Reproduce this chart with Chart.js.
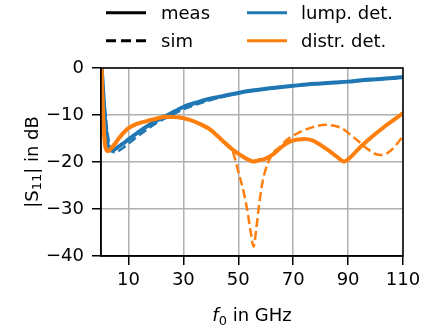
<!DOCTYPE html>
<html>
<head>
<meta charset="utf-8">
<script src="https://cdn.jsdelivr.net/npm/chart.js@4.4.1/dist/chart.umd.min.js"></script>
<style>
  html, body { margin: 0; padding: 0; background: #fff; }
</style>
</head>
<body>
<canvas id="c" width="421" height="327"></canvas>
<script>
// Return loss |S11| of the two detector designs, measured vs. simulated.
const xTickValues = [10, 30, 50, 70, 90, 110];
const yTickValues = [0, -10, -20, -30, -40];

// lumped-element detector, measurement
const lumpMeasFreq = [0.2, 0.6, 1.0, 1.5, 2.0, 2.5, 3.2, 4, 5, 6, 8, 10, 13, 16, 20, 25, 30, 35, 40, 45, 50, 55, 60, 65, 70, 75, 80, 85, 90, 95, 100, 105, 110];
const lumpMeasDb   = [0, -3, -7, -11, -14, -16.5, -17.4, -17.6, -17.3, -16.9, -16.1, -15.2, -13.9, -12.7, -11.3, -9.8, -8.3, -7.3, -6.5, -5.9, -5.3, -4.8, -4.4, -4.1, -3.8, -3.5, -3.3, -3.1, -2.9, -2.6, -2.4, -2.2, -1.9];

// lumped-element detector, simulation
const lumpSimFreq = [0.3, 1, 2, 3, 4, 5, 6, 8, 10, 13, 16, 20, 25, 30, 40, 50, 60, 70, 80, 90, 100, 110];
const lumpSimDb   = [0, -6, -12, -16, -17.6, -18.0, -17.8, -17.0, -16.1, -14.7, -13.4, -11.8, -10.2, -8.8, -6.8, -5.4, -4.5, -3.8, -3.3, -2.9, -2.5, -2.1];

// distributed detector, measurement
const distrMeasFreq = [0.2, 0.5, 1, 1.5, 2.2, 3, 4, 5.2, 7, 10, 13, 16, 20, 24, 28, 32, 36, 40, 44, 48, 51, 54, 55.6, 57, 60, 63, 66, 69, 72, 74, 77, 80, 83, 86, 88.6, 91, 94, 97, 100, 103, 106, 110];
const distrMeasDb   = [0, -6, -13, -16.5, -17.6, -17.5, -16.9, -16.0, -14.6, -12.8, -11.9, -11.4, -10.8, -10.35, -10.5, -11.0, -11.9, -13.2, -15.3, -17.4, -18.6, -19.6, -19.9, -19.7, -19.3, -18.2, -16.7, -15.6, -15.2, -15.1, -15.4, -16.4, -17.6, -18.9, -19.9, -18.9, -17.1, -15.5, -14.0, -12.6, -11.3, -9.6];

// distributed detector, simulation
const distrSimFreq = [0.3, 0.8, 1.5, 2.3, 3, 4, 5.5, 7, 10, 13, 16, 20, 24, 28, 32, 36, 40, 44, 46, 48, 50, 52, 53.5, 54.5, 55.6, 56.5, 57.5, 58.6, 60, 61.5, 63, 65, 67, 70, 73, 76, 79, 82, 85, 88, 91, 94, 97, 100, 102, 104, 106, 108, 110];
const distrSimDb   = [0, -8, -15, -17.8, -17.7, -17.1, -16.0, -14.7, -12.9, -11.9, -11.4, -10.8, -10.4, -10.5, -11.0, -12.0, -13.3, -15.3, -16.5, -17.8, -22.0, -26.5, -31.0, -34.8, -38.0, -34.5, -29.5, -25.0, -21.5, -19.3, -17.8, -16.9, -15.6, -14.4, -13.5, -12.8, -12.3, -12.1, -12.3, -12.9, -14.3, -15.7, -17.2, -18.3, -18.5, -18.2, -17.3, -16.0, -14.5];

const BLUE = '#1f77b4';
const ORANGE = '#ff7f0e';
const FONT = "'DejaVu Sans', sans-serif";
const FS = 18;

const toPoints = (freq, db) => freq.map((f, i) => ({ x: f, y: db[i] }));

const measStyle = { borderWidth: 4, pointRadius: 0, cubicInterpolationMode: 'monotone', fill: false };
const simStyle  = { borderWidth: 2.5, borderDash: [9, 4], pointRadius: 0, cubicInterpolationMode: 'monotone', fill: false };

// Legend: line style (meas/sim) in the first column, detector colour in the second.
const legendItems = [
  { text: 'meas',        color: '#000', dash: [],      x0: 106, x1: 146, tx: 161, y: 12.7 },
  { text: 'sim',         color: '#000', dash: [10, 5], x0: 106, x1: 146, tx: 161, y: 40.7 },
  { text: 'lump. det.',  color: BLUE,   dash: [],      x0: 247, x1: 287, tx: 301, y: 12.7 },
  { text: 'distr. det.', color: ORANGE, dash: [],      x0: 247, x1: 287, tx: 301, y: 40.7 }
];

const decorations = {
  id: 'decorations',
  afterDatasetsDraw(chart) {
    const { ctx, chartArea: a } = chart;
    ctx.save();
    ctx.strokeStyle = '#000';
    ctx.lineWidth = 1.5;
    ctx.setLineDash([]);
    ctx.strokeRect(a.left, a.top, a.right - a.left, a.bottom - a.top);
    ctx.restore();
  },
  afterDraw(chart) {
    const { ctx, chartArea: a } = chart;
    ctx.save();
    // legend
    legendItems.forEach(it => {
      ctx.beginPath();
      ctx.strokeStyle = it.color;
      ctx.lineWidth = 3;
      ctx.lineCap = 'butt';
      ctx.setLineDash(it.dash);
      ctx.moveTo(it.x0, it.y);
      ctx.lineTo(it.x1, it.y);
      ctx.stroke();
      ctx.setLineDash([]);
      ctx.fillStyle = '#000';
      ctx.font = FS + 'px ' + FONT;
      ctx.textBaseline = 'alphabetic';
      ctx.textAlign = 'left';
      ctx.fillText(it.text, it.tx, it.y + 6.3);
    });

    // x axis title: f_0 in GHz
    const xMain = FS + 'px ' + FONT;
    const xItal = 'italic ' + FS + 'px ' + FONT;
    const xSub = Math.round(FS * 0.7) + 'px ' + FONT;
    ctx.font = xItal; const wf = ctx.measureText('f').width;
    ctx.font = xSub;  const w0 = ctx.measureText('0').width;
    ctx.font = xMain; const wr = ctx.measureText(' in GHz').width;
    const cx = (a.left + a.right) / 2;
    let x = cx - (wf + w0 + wr) / 2;
    const base = 321;
    ctx.textAlign = 'left';
    ctx.font = xItal; ctx.fillText('f', x, base); x += wf;
    ctx.font = xSub;  ctx.fillText('0', x, base + 3.5); x += w0;
    ctx.font = xMain; ctx.fillText(' in GHz', x, base);

    // y axis title: |S_11| in dB
    ctx.translate(37.5, (a.top + a.bottom) / 2);
    ctx.rotate(-Math.PI / 2);
    ctx.font = xMain; const wa = ctx.measureText('|S').width;
    ctx.font = xSub;  const wb = ctx.measureText('11').width;
    ctx.font = xMain; const wc = ctx.measureText('| in dB').width;
    let y = -(wa + wb + wc) / 2;
    ctx.font = xMain; ctx.fillText('|S', y, 0); y += wa;
    ctx.font = xSub;  ctx.fillText('11', y, 3.5); y += wb;
    ctx.font = xMain; ctx.fillText('| in dB', y, 0);
    ctx.restore();
  }
};

const gridStyle = { color: '#b0b0b0', lineWidth: 1.5, drawTicks: true, tickLength: 9, tickColor: '#000', tickWidth: 1.5 };
const borderStyle = { display: true, color: '#000', width: 1.5 };

new Chart(document.getElementById('c'), {
  type: 'line',
  data: {
    datasets: [
      Object.assign({ label: 'distr. det. sim',  data: toPoints(distrSimFreq, distrSimDb),   borderColor: ORANGE, order: 0 }, simStyle),
      Object.assign({ label: 'distr. det. meas', data: toPoints(distrMeasFreq, distrMeasDb), borderColor: ORANGE, order: 1 }, measStyle),
      Object.assign({ label: 'lump. det. sim',   data: toPoints(lumpSimFreq, lumpSimDb),     borderColor: BLUE,   order: 2 }, simStyle),
      Object.assign({ label: 'lump. det. meas',  data: toPoints(lumpMeasFreq, lumpMeasDb),   borderColor: BLUE,   order: 3 }, measStyle)
    ]
  },
  options: {
    responsive: false,
    animation: false,
    devicePixelRatio: 1,
    layout: { padding: { top: 68, right: 0, bottom: 0, left: 0 } },
    plugins: { legend: { display: false }, tooltip: { enabled: false } },
    scales: {
      x: {
        type: 'linear',
        min: 0, max: 110,
        afterBuildTicks: s => { s.ticks = xTickValues.map(v => ({ value: v })); },
        afterFit: s => { s.height = 71; s.paddingRight = 18; },
        ticks: { font: { family: FONT, size: FS }, color: '#000', padding: 5, maxRotation: 0, autoSkip: false },
        grid: gridStyle,
        border: borderStyle
      },
      y: {
        type: 'linear',
        min: -40, max: 0,
        afterBuildTicks: s => { s.ticks = yTickValues.map(v => ({ value: v })); },
        afterFit: s => { s.width = 101; },
        ticks: {
          font: { family: FONT, size: FS }, color: '#000', padding: 8,
          callback: v => (v < 0 ? '\u2212' + Math.abs(v) : String(v))
        },
        grid: gridStyle,
        border: borderStyle
      }
    }
  },
  plugins: [decorations]
});
</script>
</body>
</html>
